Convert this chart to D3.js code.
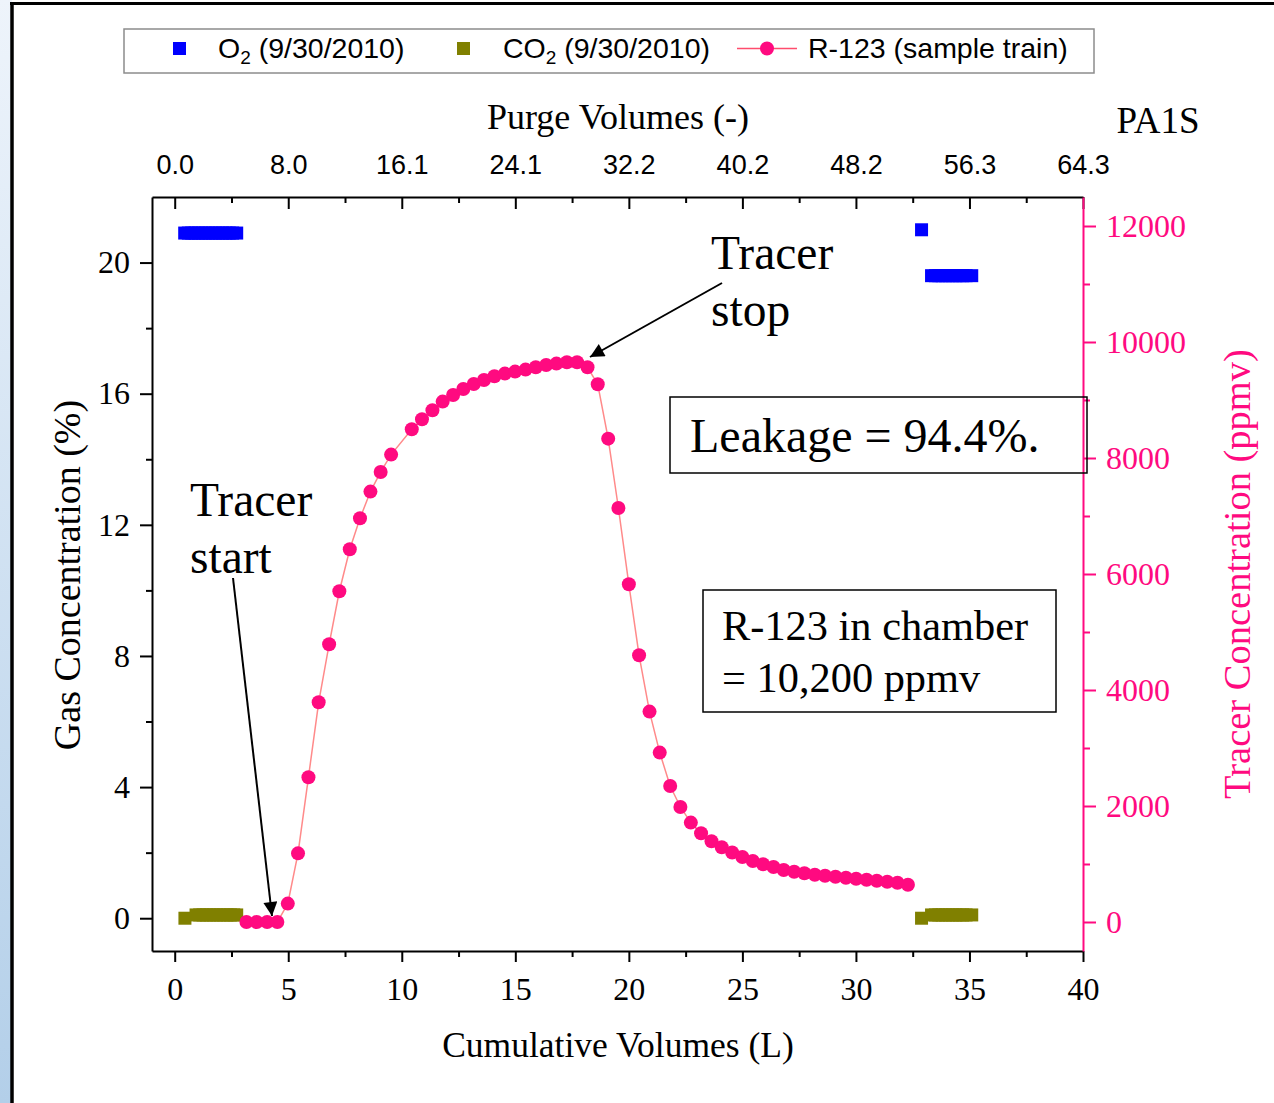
<!DOCTYPE html>
<html><head><meta charset="utf-8">
<script src="https://cdn.jsdelivr.net/npm/d3@7"></script>
<style>html,body{margin:0;padding:0;background:#fff;}svg{display:block;}</style>
</head><body>
<script>
// ---- data ----
const r123X = [3.16, 3.61, 4.07, 4.52, 4.98, 5.43, 5.89, 6.34, 6.80, 7.25, 7.71, 8.16, 8.62, 9.07, 9.53, 10.44, 10.89, 11.35, 11.80, 12.26, 12.71, 13.17, 13.62, 14.08, 14.54, 14.99, 15.45, 15.90, 16.36, 16.81, 17.27, 17.72, 18.18, 18.63, 19.09, 19.54, 20.00, 20.45, 20.91, 21.36, 21.82, 22.27, 22.73, 23.18, 23.64, 24.09, 24.55, 25.00, 25.46, 25.91, 26.37, 26.82, 27.28, 27.73, 28.19, 28.64, 29.10, 29.56, 30.01, 30.47, 30.92, 31.38, 31.83, 32.29];
const r123Y = [0,0,0,0,317,1184,2495,3788,4788,5702,6426,6960,7421,7759,8059,8495,8667,8822,8972,9086,9190,9276,9345,9409,9455,9490,9524,9564,9603,9628,9650,9650,9564,9271,8334,7138,5822,4598,3628,2921,2345,1983,1714,1529,1391,1288,1197,1121,1052,995,948,897,866,840,814,797,779,762,745,728,710,693,676,641];
const o2X = [0.44, 0.6, 0.75, 0.9, 1.05, 1.2, 1.35, 1.5, 1.65, 1.8, 1.95, 2.1, 2.25, 2.4, 2.55, 2.73, 32.89, 33.33, 33.5, 33.65, 33.8, 33.95, 34.1, 34.25, 34.4, 34.55, 34.7, 34.85, 35.1];
const o2Y = [20.9, 20.9, 20.9, 20.9, 20.9, 20.9, 20.9, 20.9, 20.9, 20.9, 20.9, 20.9, 20.9, 20.9, 20.9, 20.9, 21.0, 19.6, 19.6, 19.6, 19.6, 19.6, 19.6, 19.6, 19.6, 19.6, 19.6, 19.6, 19.6];
const co2X = [0.45, 0.94, 1.1, 1.25, 1.4, 1.55, 1.7, 1.85, 2.0, 2.15, 2.3, 2.45, 2.6, 2.73, 32.89, 33.33, 33.5, 33.65, 33.8, 33.95, 34.1, 34.25, 34.4, 34.55, 34.7, 34.85, 35.1];
const co2Y = [0, 0.1, 0.1, 0.1, 0.1, 0.1, 0.1, 0.1, 0.1, 0.1, 0.1, 0.1, 0.1, 0.1, 0, 0.1, 0.1, 0.1, 0.1, 0.1, 0.1, 0.1, 0.1, 0.1, 0.1, 0.1, 0.1];
const bottomTicks = [0, 5, 10, 15, 20, 25, 30, 35, 40];
const bottomMinor = [2.5, 7.5, 12.5, 17.5, 22.5, 27.5, 32.5, 37.5];
const topTickLabels = ["0.0", "8.0", "16.1", "24.1", "32.2", "40.2", "48.2", "56.3", "64.3"];
const leftTicks = [0, 4, 8, 12, 16, 20];
const leftMinor = [2, 6, 10, 14, 18];
const rightTicks = [0, 2000, 4000, 6000, 8000, 10000, 12000];
const rightMinor = [1000, 3000, 5000, 7000, 9000, 11000];

const W = 1274, H = 1103;
const PINK = "#ff0a80", LINEPINK = "#ff8a8a";
const SERIF = "'Liberation Serif', 'Times New Roman', serif";
const SANS = "'Liberation Sans', Arial, sans-serif";
const L = 152, R = 1083, T = 197, B = 951;

const svg = d3.select("body").append("svg").attr("width", W).attr("height", H);
const defs = svg.append("defs");
const grad = defs.append("linearGradient").attr("id", "strip").attr("x1", 0).attr("y1", 0).attr("x2", 0).attr("y2", 1);
grad.append("stop").attr("offset", "0%").attr("stop-color", "#eef4fb");
grad.append("stop").attr("offset", "100%").attr("stop-color", "#b3cfe9");
defs.append("marker").attr("id", "arr").attr("viewBox", "0 0 10 10").attr("refX", 10).attr("refY", 5)
  .attr("markerWidth", 18).attr("markerHeight", 14).attr("markerUnits", "userSpaceOnUse").attr("orient", "auto")
  .append("path").attr("d", "M0,0 L10,5 L0,10 z").attr("fill", "#000");

svg.append("rect").attr("x", 0).attr("y", 0).attr("width", 12).attr("height", H).attr("fill", "url(#strip)");
svg.append("line").attr("x1", 12).attr("x2", 12).attr("y1", 2).attr("y2", H).attr("stroke", "#000").attr("stroke-width", 3.5);
svg.append("line").attr("x1", 10).attr("x2", W).attr("y1", 3.5).attr("y2", 3.5).attr("stroke", "#000").attr("stroke-width", 3);

const x = d3.scaleLinear().domain([-1, 40]).range([L, R]);
const yL = d3.scaleLinear().domain([-1, 22]).range([B, T]);
const yR = d3.scaleLinear().domain([-500, 12500]).range([B, T]);

function styleAxis(g, color, font, size) {
  g.select(".domain").attr("stroke", color).attr("stroke-width", 2);
  g.selectAll(".tick line").attr("stroke", color).attr("stroke-width", 2);
  g.selectAll(".tick text").attr("fill", color).style("font-family", font).style("font-size", size + "px");
}

// bottom axis
const gB = svg.append("g").attr("transform", `translate(0,${B})`)
  .call(d3.axisBottom(x).tickValues(bottomTicks).tickSize(11).tickSizeOuter(0).tickPadding(15).tickFormat(d3.format("d")));
styleAxis(gB, "#000", SERIF, 32);
svg.append("g").attr("transform", `translate(0,${B})`)
  .call(d3.axisBottom(x).tickValues(bottomMinor).tickSize(6).tickSizeOuter(0).tickFormat(""))
  .call(g => { g.select(".domain").remove(); g.selectAll("line").attr("stroke", "#000").attr("stroke-width", 2); });

// top axis
const gT = svg.append("g").attr("transform", `translate(0,${T})`)
  .call(d3.axisTop(x).tickValues(bottomTicks).tickSize(-12).tickSizeOuter(0).tickPadding(23)
    .tickFormat((d, i) => topTickLabels[i]));
styleAxis(gT, "#000", SANS, 27);
svg.append("g").attr("transform", `translate(0,${T})`)
  .call(d3.axisTop(x).tickValues(bottomMinor).tickSize(-6).tickSizeOuter(0).tickFormat(""))
  .call(g => { g.select(".domain").remove(); g.selectAll("line").attr("stroke", "#000").attr("stroke-width", 2); });

// left axis
const gL = svg.append("g").attr("transform", `translate(${L},0)`)
  .call(d3.axisLeft(yL).tickValues(leftTicks).tickSize(12).tickSizeOuter(0).tickPadding(10).tickFormat(d3.format("d")));
styleAxis(gL, "#000", SERIF, 32);
svg.append("g").attr("transform", `translate(${L},0)`)
  .call(d3.axisLeft(yL).tickValues(leftMinor).tickSize(6).tickSizeOuter(0).tickFormat(""))
  .call(g => { g.select(".domain").remove(); g.selectAll("line").attr("stroke", "#000").attr("stroke-width", 2); });

// right axis
const gR = svg.append("g").attr("transform", `translate(${R},0)`)
  .call(d3.axisRight(yR).tickValues(rightTicks).tickSize(13).tickSizeOuter(0).tickPadding(10).tickFormat(d3.format("d")));
styleAxis(gR, PINK, SERIF, 32);
svg.append("g").attr("transform", `translate(${R},0)`)
  .call(d3.axisRight(yR).tickValues(rightMinor).tickSize(7).tickSizeOuter(0).tickFormat(""))
  .call(g => { g.select(".domain").remove(); g.selectAll("line").attr("stroke", PINK).attr("stroke-width", 2); });

// axis titles
svg.append("text").attr("x", 618).attr("y", 129).attr("text-anchor", "middle")
  .style("font-family", SERIF).style("font-size", "36px").text("Purge Volumes (-)");
svg.append("text").attr("x", 1158).attr("y", 133).attr("text-anchor", "middle")
  .style("font-family", SERIF).style("font-size", "37px").text("PA1S");
svg.append("text").attr("x", 618).attr("y", 1057).attr("text-anchor", "middle")
  .style("font-family", SERIF).style("font-size", "35.5px").text("Cumulative Volumes (L)");
svg.append("text").attr("transform", "translate(80,575) rotate(-90)").attr("text-anchor", "middle")
  .style("font-family", SERIF).style("font-size", "38px").text("Gas Concentration (%)");
svg.append("text").attr("transform", "translate(1250,574) rotate(-90)").attr("text-anchor", "middle")
  .attr("fill", PINK).style("font-family", SERIF).style("font-size", "38.5px").text("Tracer Concentration (ppmv)");

// series
const plot = svg.append("g");
const S = 13;
plot.selectAll("rect.o2").data(o2X.map((v, i) => [v, o2Y[i]])).join("rect").attr("class", "o2")
  .attr("x", d => x(d[0]) - S / 2).attr("y", d => yL(d[1]) - S / 2).attr("width", S).attr("height", S).attr("fill", "#0000ff");
plot.selectAll("rect.co2").data(co2X.map((v, i) => [v, co2Y[i]])).join("rect").attr("class", "co2")
  .attr("x", d => x(d[0]) - S / 2).attr("y", d => yL(d[1]) - S / 2).attr("width", S).attr("height", S).attr("fill", "#808000");
const rData = r123X.map((v, i) => [v, r123Y[i]]);
plot.append("path").datum(rData).attr("fill", "none").attr("stroke", LINEPINK).attr("stroke-width", 1.5)
  .attr("d", d3.line().x(d => x(d[0])).y(d => yR(d[1])));
plot.selectAll("circle.r").data(rData).join("circle").attr("class", "r")
  .attr("cx", d => x(d[0])).attr("cy", d => yR(d[1])).attr("r", 7).attr("fill", PINK);

// legend
const lg = svg.append("g");
lg.append("rect").attr("x", 124).attr("y", 29).attr("width", 970).attr("height", 44)
  .attr("fill", "#fff").attr("stroke", "#8c8c8c").attr("stroke-width", 1.5);
lg.append("rect").attr("x", 173).attr("y", 42).attr("width", 13).attr("height", 13).attr("fill", "#0000ff");
lg.append("rect").attr("x", 457).attr("y", 42).attr("width", 13).attr("height", 13).attr("fill", "#808000");
lg.append("line").attr("x1", 737).attr("x2", 797).attr("y1", 48.5).attr("y2", 48.5).attr("stroke", "#ff4d6d").attr("stroke-width", 1.5);
lg.append("circle").attr("cx", 767).attr("cy", 48.5).attr("r", 7).attr("fill", PINK);
function legText(xp, main, rest) {
  const t = lg.append("text").attr("x", xp).attr("y", 58).style("font-family", SANS).style("font-size", "28.5px");
  t.append("tspan").text(main);
  if (rest !== null) {
    t.append("tspan").attr("dy", 6).style("font-size", "19px").text("2");
    t.append("tspan").attr("dy", -6).text(rest);
  }
}
legText(218, "O", " (9/30/2010)");
legText(503, "CO", " (9/30/2010)");
legText(808, "R-123 (sample train)", null);

// annotations
function ann(xp, yp, lines, size, lh) {
  const t = svg.append("text").style("font-family", SERIF).style("font-size", size + "px");
  lines.forEach((s, i) => t.append("tspan").attr("x", xp).attr("y", yp + i * lh).text(s));
}
ann(711, 269, ["Tracer", "stop"], 47.5, 57);
ann(190, 516, ["Tracer", "start"], 47.5, 57);
svg.append("rect").attr("x", 670).attr("y", 397).attr("width", 417).attr("height", 76)
  .attr("fill", "none").attr("stroke", "#000").attr("stroke-width", 1.5);
ann(690, 452, ["Leakage = 94.4%."], 48, 0);
svg.append("rect").attr("x", 703).attr("y", 590).attr("width", 353).attr("height", 122)
  .attr("fill", "none").attr("stroke", "#000").attr("stroke-width", 1.5);
ann(722, 640, ["R-123 in chamber", "= 10,200 ppmv"], 42.4, 52);

svg.append("line").attr("x1", 722).attr("y1", 283).attr("x2", 590).attr("y2", 357)
  .attr("stroke", "#000").attr("stroke-width", 2).attr("marker-end", "url(#arr)");
svg.append("line").attr("x1", 233).attr("y1", 578).attr("x2", 272).attr("y2", 916)
  .attr("stroke", "#000").attr("stroke-width", 2).attr("marker-end", "url(#arr)");
</script>
</body></html>
